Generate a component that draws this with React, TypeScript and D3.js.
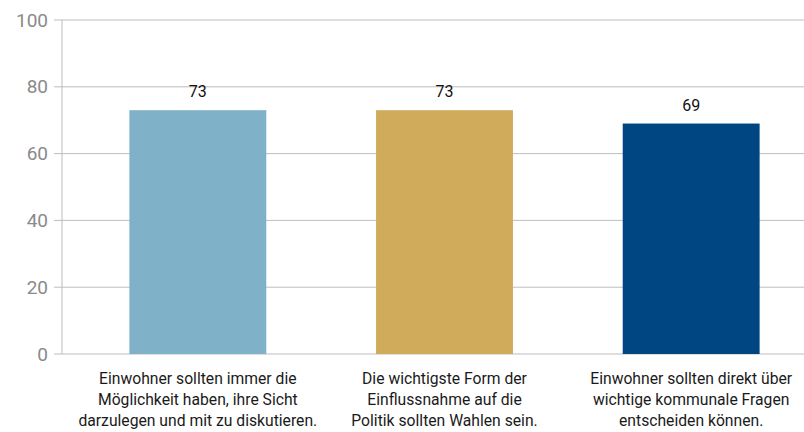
import React from "react";
import * as d3 from "d3";

const categories: string[][] = [
  ["Einwohner sollten immer die", "Möglichkeit haben, ihre Sicht", "darzulegen und mit zu diskutieren."],
  ["Die wichtigste Form der", "Einflussnahme auf die", "Politik sollten Wahlen sein."],
  ["Einwohner sollten direkt über", "wichtige kommunale Fragen", "entscheiden können."],
];
const values = [73, 73, 69];
const colors = ["#7fb1c9", "#cfab5b", "#004683"];
const yTicks = [0, 20, 40, 60, 80, 100];

export default function App() {
  const W = 804, H = 432;
  const y = d3.scaleLinear().domain([0, 100]).range([354, 20]);
  const x = d3.scaleBand<number>().domain([0, 1, 2]).range([74.5, 814.5]).paddingInner(0.445).paddingOuter(0.2225);
  const font = "Roboto, 'Liberation Sans', sans-serif";
  return (
    <svg width={W} height={H} style={{ position: "absolute", left: 0, top: 0, background: "#fff" }}>
      {yTicks.map((t) => (
        <g key={t}>
          <line x1={54} x2={804} y1={y(t)} y2={y(t)} stroke="#bdbdbd" strokeWidth={1} />
          <text x={48} y={y(t)} dy="0.35em" textAnchor="end" fontSize={19} fill="#8a8a8a" fontFamily={font}>{t}</text>
        </g>
      ))}
      <line x1={62} x2={62} y1={y(100)} y2={y(0)} stroke="#bdbdbd" strokeWidth={1} />
      {values.map((v, i) => (
        <g key={i}>
          <rect x={x(i)} y={y(v)} width={x.bandwidth()} height={y(0) - y(v)} fill={colors[i]} />
          <text x={(x(i) as number) + x.bandwidth() / 2} y={y(v) - 13} textAnchor="middle" fontSize={16} fill="#111" fontFamily={font}>{v}</text>
          {categories[i].map((line, j) => (
            <text key={j} x={(x(i) as number) + x.bandwidth() / 2} y={384 + j * 21} textAnchor="middle" fontSize={15.7} fill="#1a1a1a" fontFamily={font}>{line}</text>
          ))}
        </g>
      ))}
    </svg>
  );
}
